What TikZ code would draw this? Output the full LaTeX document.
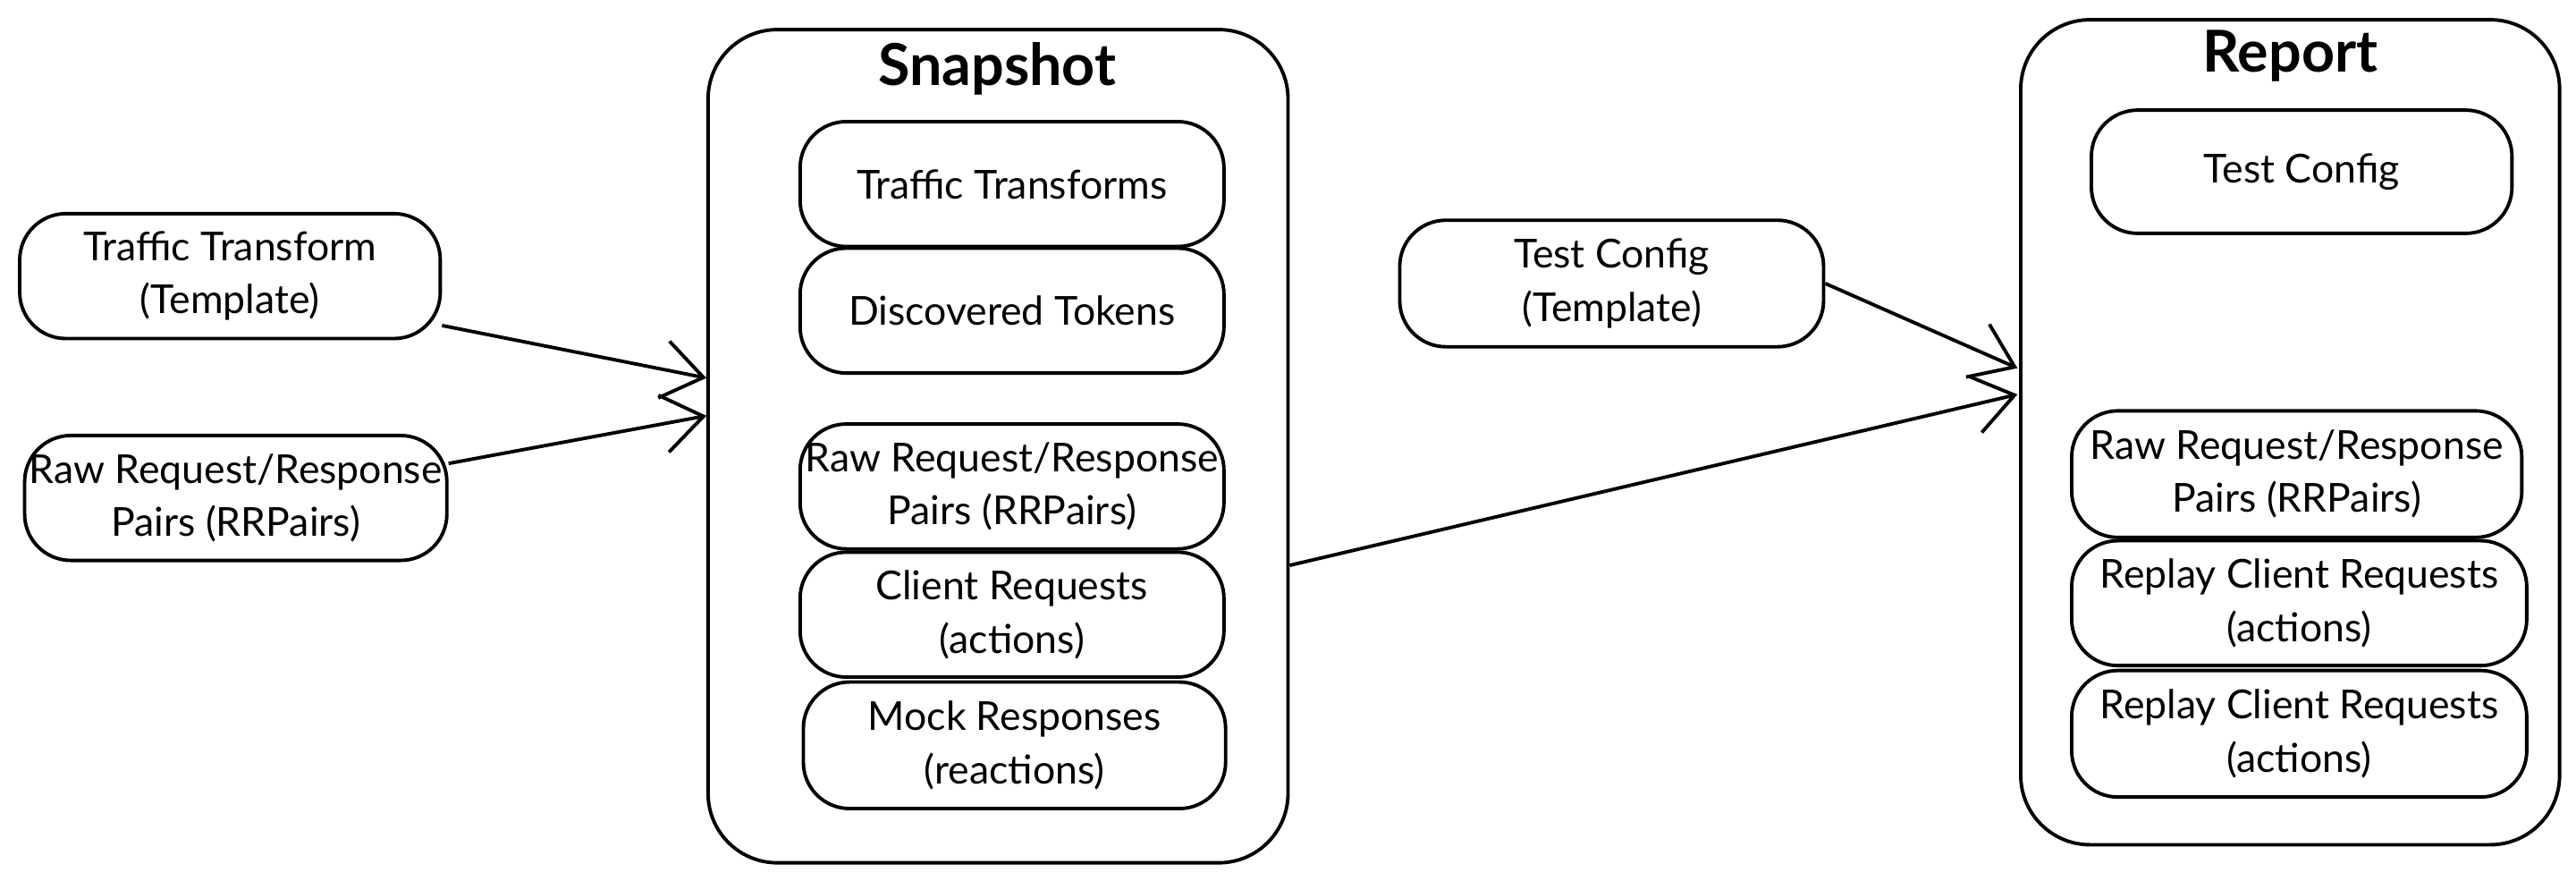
\documentclass[tikz,border=0pt]{standalone}
\usepackage{fontspec}
\setmainfont{Lato}
\usetikzlibrary{arrows.meta,positioning}
\tikzset{
  box/.style = {draw = black, rounded corners = 8pt, line width = 0.6pt, align = center,
    inner sep = 0pt, font = \fontsize{6.9}{9.2}\selectfont},
  frame/.style = {draw = black, rounded corners = 12pt, line width = 0.6pt},
  title/.style = {font = \fontsize{10}{12}\selectfont\bfseries},
  flow/.style = {-{Straight Barb[length=7pt,width=10pt]}, line width = 0.6pt}
}
\newcommand\bx[6]{\node[box, minimum width=#4cm-#2cm, minimum height=#5cm-#3cm] (#1) at ({(#2+#4)/2},{-(#3+#5)/2}) {#6};}
\begin{document}
\begin{tikzpicture}
\useasboundingbox (0,0) rectangle (15.68,-5.36);
% inputs
\bx{tt}{0.12}{1.30}{2.68}{2.06}{Traffic Transform\\(Template)}
\bx{rr}{0.15}{2.65}{2.72}{3.41}{Raw Request/Response\\Pairs (RRPairs)}
% snapshot
\draw[frame] (4.31,-0.18) rectangle (7.84,-5.25);
\node[title] (snap) at (6.07,-0.42) {Snapshot};
\bx{stt}{4.87}{0.74}{7.45}{1.50}{Traffic Transforms}
\bx{sdt}{4.87}{1.51}{7.45}{2.27}{Discovered Tokens}
\bx{srr}{4.87}{2.58}{7.45}{3.34}{Raw Request/Response\\Pairs (RRPairs)}
\bx{scr}{4.87}{3.36}{7.45}{4.12}{Client Requests\\(actions)}
\bx{smr}{4.89}{4.15}{7.46}{4.92}{Mock Responses\\(reactions)}
\coordinate (snapin1) at (4.30,-2.30);
\coordinate (snapin2) at (4.30,-2.53);
\coordinate (snapout) at (7.85,-3.44);
% test config
\bx{tc}{8.52}{1.34}{11.10}{2.11}{Test Config\\(Template)}
% report
\draw[frame] (12.30,-0.12) rectangle (15.58,-5.14);
\node[title] (rep) at (13.94,-0.34) {Report};
\bx{rtc}{12.73}{0.67}{15.29}{1.42}{Test Config}
\bx{rrr}{12.61}{2.50}{15.35}{3.27}{Raw Request/Response\\Pairs (RRPairs)}
\bx{rc1}{12.61}{3.29}{15.38}{4.05}{Replay Client Requests\\(actions)}
\bx{rc2}{12.61}{4.08}{15.38}{4.85}{Replay Client Requests\\(actions)}
\coordinate (repin1) at (12.28,-2.24);
\coordinate (repin2) at (12.28,-2.40);
% arrows
\draw[flow] (tt.south east) ++(0,0.09) -- (snapin1);
\draw[flow] (rr.east) ++(0,0.21) -- (snapin2);
\draw[flow] (tc.east) -- (repin1);
\draw[flow] (snapout) -- (repin2);
\end{tikzpicture}
\end{document}
